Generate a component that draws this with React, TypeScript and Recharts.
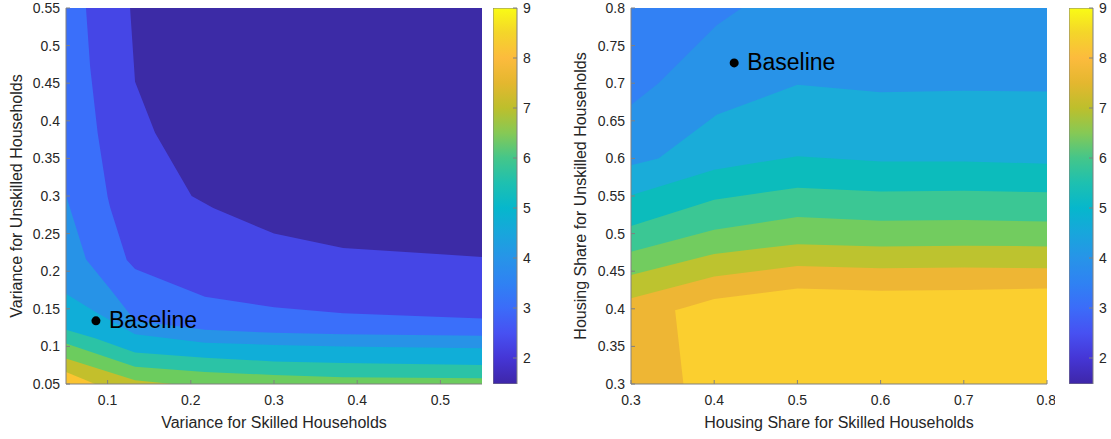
import React from 'react';
import { ComposedChart, Area, Scatter, XAxis, YAxis, CartesianGrid, BarChart, Bar } from 'recharts';

const FONT = '"Liberation Sans", Arial, Helvetica, sans-serif';
const INK = '#262626';
const BOX = '#808080';

// ---- left panel: variance for skilled / unskilled households ----
const leftXTicks = [0.1, 0.2, 0.3, 0.4, 0.5];
const leftYTicks = [0.05, 0.1, 0.15, 0.2, 0.25, 0.3, 0.35, 0.4, 0.45, 0.5, 0.55];
const leftColors = ['#3c2ba6', '#4546e6', '#3a6ffa', '#2793e7', '#10aed8', '#2bc3a6', '#6ccc5e', '#c3bf2c', '#fbc431'];

// contour boundaries: each band is filled from the bottom of the axes up to its line
const leftLevel2 = [
  { x: 0.05, y: 0.55 }, { x: 0.127, y: 0.55 }, { x: 0.133, y: 0.452 }, { x: 0.157, y: 0.384 },
  { x: 0.201, y: 0.3 }, { x: 0.227, y: 0.284 }, { x: 0.3, y: 0.25 }, { x: 0.383, y: 0.231 }, { x: 0.55, y: 0.219 },
];
const leftLevel3 = [
  { x: 0.05, y: 0.55 }, { x: 0.074, y: 0.55 }, { x: 0.079, y: 0.472 }, { x: 0.088, y: 0.384 },
  { x: 0.1, y: 0.299 }, { x: 0.103, y: 0.285 }, { x: 0.123, y: 0.215 }, { x: 0.133, y: 0.203 },
  { x: 0.217, y: 0.166 }, { x: 0.3, y: 0.152 }, { x: 0.383, y: 0.144 }, { x: 0.55, y: 0.137 },
];
const leftLevel4 = [
  { x: 0.05, y: 0.301 }, { x: 0.074, y: 0.216 }, { x: 0.104, y: 0.175 }, { x: 0.133, y: 0.134 },
  { x: 0.217, y: 0.122 }, { x: 0.3, y: 0.118 }, { x: 0.383, y: 0.116 }, { x: 0.55, y: 0.114 },
];
const leftLevel5 = [
  { x: 0.05, y: 0.17 }, { x: 0.085, y: 0.146 }, { x: 0.133, y: 0.116 }, { x: 0.217, y: 0.105 },
  { x: 0.3, y: 0.102 }, { x: 0.383, y: 0.1 }, { x: 0.55, y: 0.0975 },
];
const leftLevel6 = [
  { x: 0.05, y: 0.122 }, { x: 0.085, y: 0.111 }, { x: 0.133, y: 0.092 }, { x: 0.217, y: 0.085 },
  { x: 0.3, y: 0.08 }, { x: 0.383, y: 0.078 }, { x: 0.55, y: 0.0753 },
];
const leftLevel7 = [
  { x: 0.05, y: 0.104 }, { x: 0.133, y: 0.073 }, { x: 0.217, y: 0.066 }, { x: 0.3, y: 0.062 },
  { x: 0.383, y: 0.059 }, { x: 0.55, y: 0.0576 },
];
const leftLevel8 = [{ x: 0.05, y: 0.084 }, { x: 0.133, y: 0.055 }, { x: 0.178, y: 0.05 }];
const leftLevel9 = [{ x: 0.05, y: 0.066 }, { x: 0.085, y: 0.05 }];
const leftBaseline = [{ x: 0.086, y: 0.134 }];

// ---- right panel: housing share for skilled / unskilled households ----
const rightXTicks = [0.3, 0.4, 0.5, 0.6, 0.7, 0.8];
const rightYTicks = [0.3, 0.35, 0.4, 0.45, 0.5, 0.55, 0.6, 0.65, 0.7, 0.75, 0.8];
const rightColors = ['#3281f4', '#2893e8', '#1aacd9', '#0cbcbc', '#3bc794', '#72cc5f', '#bdc32f', '#eeb634', '#fbcf2f'];

// top-left corner band, filled up to the top of the axes
const rightCorner = [{ x: 0.3, y: 0.671 }, { x: 0.333, y: 0.7 }, { x: 0.403, y: 0.777 }, { x: 0.433, y: 0.8 }];
const rightLevel3 = [
  { x: 0.3, y: 0.591 }, { x: 0.333, y: 0.6 }, { x: 0.403, y: 0.658 }, { x: 0.5, y: 0.698 },
  { x: 0.6, y: 0.688 }, { x: 0.7, y: 0.69 }, { x: 0.8, y: 0.689 },
];
const rightLevel4 = [
  { x: 0.3, y: 0.551 }, { x: 0.4, y: 0.585 }, { x: 0.5, y: 0.603 }, { x: 0.6, y: 0.596 }, { x: 0.7, y: 0.596 }, { x: 0.8, y: 0.593 },
];
const rightLevel5 = [
  { x: 0.3, y: 0.51 }, { x: 0.4, y: 0.545 }, { x: 0.5, y: 0.561 }, { x: 0.6, y: 0.556 }, { x: 0.7, y: 0.557 }, { x: 0.8, y: 0.555 },
];
const rightLevel6 = [
  { x: 0.3, y: 0.476 }, { x: 0.4, y: 0.505 }, { x: 0.5, y: 0.522 }, { x: 0.6, y: 0.517 }, { x: 0.7, y: 0.518 }, { x: 0.8, y: 0.516 },
];
const rightLevel7 = [
  { x: 0.3, y: 0.445 }, { x: 0.4, y: 0.473 }, { x: 0.5, y: 0.486 }, { x: 0.6, y: 0.483 }, { x: 0.7, y: 0.484 }, { x: 0.8, y: 0.483 },
];
const rightLevel8 = [
  { x: 0.3, y: 0.414 }, { x: 0.4, y: 0.443 }, { x: 0.5, y: 0.457 }, { x: 0.6, y: 0.454 }, { x: 0.7, y: 0.455 }, { x: 0.8, y: 0.454 },
];
// highest band is closed on its left side
const rightLevel9 = [
  { x: 0.353, lo: 0.398, hi: 0.398 }, { x: 0.363, lo: 0.3, hi: 0.401 }, { x: 0.4, lo: 0.3, hi: 0.413 },
  { x: 0.5, lo: 0.3, hi: 0.427 }, { x: 0.6, lo: 0.3, hi: 0.424 }, { x: 0.7, lo: 0.3, hi: 0.425 }, { x: 0.8, lo: 0.3, hi: 0.427 },
];
const rightBaseline = [{ x: 0.424, y: 0.727 }];

// ---- colorbar ----
const cbMin = 1.48;
const cbMax = 9;
const cbTicks = [2, 3, 4, 5, 6, 7, 8, 9];
const colorbarData = [{ name: 'level', range: [cbMin, cbMax] }];
// listed top (high) to bottom (low) so gradient offsets increase
const parulaStops = [
  { v: 9.0, c: '#f9fb15' }, { v: 8.5, c: '#f4d52a' }, { v: 8.0, c: '#fcbb3d' }, { v: 7.5, c: '#e4b72f' },
  { v: 7.0, c: '#bdbf2c' }, { v: 6.5, c: '#86c955' }, { v: 6.0, c: '#44c68a' }, { v: 5.5, c: '#1ec0b0' },
  { v: 5.0, c: '#06b7cc' }, { v: 4.5, c: '#18a6dc' }, { v: 4.0, c: '#2794e8' }, { v: 3.5, c: '#2f82f3' },
  { v: 3.0, c: '#3b6cf9' }, { v: 2.5, c: '#4751f2' }, { v: 2.0, c: '#4536d6' }, { v: 1.48, c: '#3e26a8' },
];

const fmt = (v: number) => String(Number(v.toFixed(2)));
const tickStyle = { fill: INK, fontSize: 14, fontFamily: FONT };

const BaselineMark = (props: any) => {
  const { cx, cy } = props;
  if (cx == null || cy == null) return null;
  return (
    <g>
      <circle cx={cx} cy={cy} r={4.5} fill="#000" />
      <text x={cx + 13} y={cy + 7} fontSize={23} fontFamily={FONT} fill="#000">
        Baseline
      </text>
    </g>
  );
};

interface Layer {
  data: any[];
  color: string;
  base: 'dataMin' | 'dataMax';
  range?: boolean;
}

interface PanelProps {
  left: number;
  xDomain: [number, number];
  yDomain: [number, number];
  xTicks: number[];
  yTicks: number[];
  xLabel: string;
  yLabel: string;
  yLabelOffset: number;
  background: string;
  layers: Layer[];
  baseline: { x: number; y: number }[];
}

const Panel: React.FC<PanelProps> = ({
  left, xDomain, yDomain, xTicks, yTicks, xLabel, yLabel, yLabelOffset, background, layers, baseline,
}) => (
  <div style={{ position: 'absolute', left, top: 0 }}>
    <ComposedChart width={490} height={439} margin={{ top: 8, right: 8, bottom: 0, left: 0 }}>
      <CartesianGrid horizontal={false} vertical={false} fill={background} fillOpacity={1} />
      {layers.map((l, i) => (
        <Area
          key={i}
          data={l.data}
          dataKey={l.range ? (d: any) => [d.lo, d.hi] : 'y'}
          baseValue={l.base}
          type="linear"
          fill={l.color}
          fillOpacity={1}
          stroke="none"
          dot={false}
          activeDot={false}
          isAnimationActive={false}
        />
      ))}
      <Scatter data={baseline} dataKey="y" shape={<BaselineMark />} isAnimationActive={false} />
      <XAxis
        dataKey="x"
        type="number"
        domain={xDomain}
        ticks={xTicks}
        allowDataOverflow
        height={55}
        tickSize={-4}
        tickMargin={15}
        tickFormatter={fmt}
        tick={tickStyle}
        axisLine={{ stroke: BOX }}
        tickLine={{ stroke: BOX }}
        label={{ value: xLabel, position: 'insideBottom', offset: 11, fill: INK, fontSize: 16, fontFamily: FONT }}
      />
      <YAxis
        type="number"
        domain={yDomain}
        ticks={yTicks}
        allowDataOverflow
        width={66}
        tickSize={-4}
        tickMargin={10}
        tickFormatter={fmt}
        tick={tickStyle}
        axisLine={{ stroke: BOX }}
        tickLine={{ stroke: BOX }}
        label={{
          value: yLabel,
          angle: -90,
          position: 'insideLeft',
          offset: yLabelOffset,
          fill: INK,
          fontSize: 16,
          fontFamily: FONT,
          style: { textAnchor: 'middle' },
        }}
      />
      <XAxis
        xAxisId="top"
        orientation="top"
        type="number"
        domain={xDomain}
        ticks={xTicks}
        allowDataOverflow
        height={0}
        tickSize={-4}
        tick={false}
        axisLine={{ stroke: BOX }}
        tickLine={{ stroke: BOX }}
      />
      <YAxis
        yAxisId="right"
        orientation="right"
        type="number"
        domain={yDomain}
        ticks={yTicks}
        allowDataOverflow
        width={0}
        tickSize={-4}
        tick={false}
        axisLine={{ stroke: BOX }}
        tickLine={{ stroke: BOX }}
      />
    </ComposedChart>
  </div>
);

const Colorbar: React.FC<{ left: number; axisWidth: number; id: string }> = ({ left, axisWidth, id }) => (
  <div style={{ position: 'absolute', left, top: 0 }}>
    <BarChart
      width={24 + axisWidth}
      height={439}
      data={colorbarData}
      margin={{ top: 8, right: 0, bottom: 55, left: 0 }}
      barCategoryGap={0}
    >
      <defs>
        <linearGradient id={id} x1="0" y1="0" x2="0" y2="1">
          {parulaStops.map((s) => (
            <stop key={s.v} offset={`${((cbMax - s.v) / (cbMax - cbMin)) * 100}%`} stopColor={s.c} />
          ))}
        </linearGradient>
      </defs>
      <Bar dataKey="range" fill={`url(#${id})`} stroke={BOX} isAnimationActive={false} />
      <XAxis dataKey="name" hide />
      <YAxis
        orientation="right"
        type="number"
        domain={[cbMin, cbMax]}
        ticks={cbTicks}
        allowDataOverflow
        width={axisWidth}
        tickSize={-4}
        tickMargin={10}
        axisLine={false}
        tickLine={{ stroke: BOX }}
        tick={tickStyle}
      />
    </BarChart>
  </div>
);

export default function App() {
  return (
    <div style={{ position: 'fixed', left: 0, top: 0, width: 1111, height: 439, background: '#fff', overflow: 'hidden' }}>
      <Panel
        left={0}
        xDomain={[0.05, 0.55]}
        yDomain={[0.05, 0.55]}
        xTicks={leftXTicks}
        yTicks={leftYTicks}
        xLabel="Variance for Skilled Households"
        yLabel="Variance for Unskilled Households"
        yLabelOffset={16}
        background={leftColors[0]}
        layers={[
          { data: leftLevel2, color: leftColors[1], base: 'dataMin' },
          { data: leftLevel3, color: leftColors[2], base: 'dataMin' },
          { data: leftLevel4, color: leftColors[3], base: 'dataMin' },
          { data: leftLevel5, color: leftColors[4], base: 'dataMin' },
          { data: leftLevel6, color: leftColors[5], base: 'dataMin' },
          { data: leftLevel7, color: leftColors[6], base: 'dataMin' },
          { data: leftLevel8, color: leftColors[7], base: 'dataMin' },
          { data: leftLevel9, color: leftColors[8], base: 'dataMin' },
        ]}
        baseline={leftBaseline}
      />
      <Colorbar left={493} axisWidth={30} id="parulaLeft" />
      <Panel
        left={565}
        xDomain={[0.3, 0.8]}
        yDomain={[0.3, 0.8]}
        xTicks={rightXTicks}
        yTicks={rightYTicks}
        xLabel="Housing Share for Skilled Households"
        yLabel="Housing Share for Unskilled Households"
        yLabelOffset={15}
        background={rightColors[1]}
        layers={[
          { data: rightCorner, color: rightColors[0], base: 'dataMax' },
          { data: rightLevel3, color: rightColors[2], base: 'dataMin' },
          { data: rightLevel4, color: rightColors[3], base: 'dataMin' },
          { data: rightLevel5, color: rightColors[4], base: 'dataMin' },
          { data: rightLevel6, color: rightColors[5], base: 'dataMin' },
          { data: rightLevel7, color: rightColors[6], base: 'dataMin' },
          { data: rightLevel8, color: rightColors[7], base: 'dataMin' },
          { data: rightLevel9, color: rightColors[8], base: 'dataMin', range: true },
        ]}
        baseline={rightBaseline}
      />
      <Colorbar left={1069} axisWidth={42} id="parulaRight" />
    </div>
  );
}
